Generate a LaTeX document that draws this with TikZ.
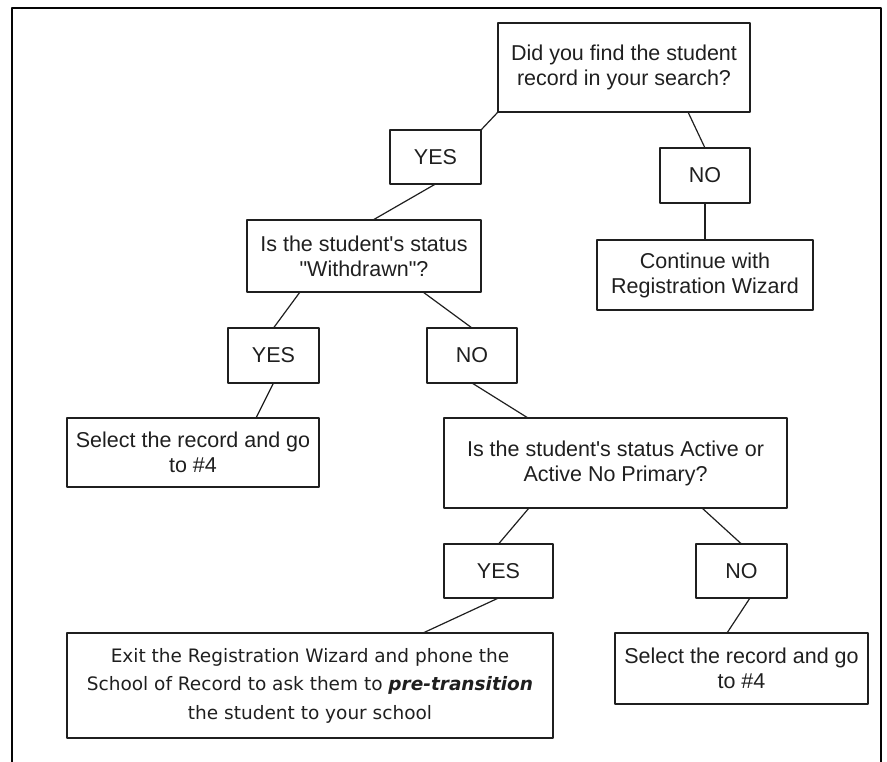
\documentclass[tikz,border=0pt]{standalone}
\usepackage{fontspec}
\setmainfont{Liberation Sans}[Ligatures=TeXOff]
\newfontfamily\notefont{DejaVu Sans}[Ligatures=TeXOff]
\usetikzlibrary{calc}
\definecolor{FlowInk}{gray}{0.12}
\definecolor{FlowFrame}{gray}{0.02}
\tikzset{
    flow/diagram/.style={
        x=1pt, y=-1pt,
        font=\fontsize{21.5}{25}\selectfont,
        text=FlowInk,
        line cap=round,
        line join=round,
        every node/.style={inner sep=0pt, outer sep=0pt}
    },
    flow/frame/.style={draw=FlowFrame, line width=2.2pt, line cap=butt},
    flow/box/.style 2 args={
        draw=FlowInk, line width=1.25pt, align=center,
        minimum width=#1pt, minimum height=#2pt
    },
    flow/note/.style={font=\notefont\fontsize{18.5}{28.5}\selectfont},
    flow/link/.style={draw=FlowInk, line width=1.2pt}
}

\begin{document}
\begin{tikzpicture}[flow/diagram]
    \useasboundingbox (0,0) rectangle (887,762);
    \draw[flow/frame] (12,762) -- (12,8) -- (881,8) -- (881,762);

    % first question
    \node[flow/box={252}{89}] (found) at (624,67.5)
        {Did you find the student\\record in your search?};
    \node[flow/box={91}{54}] (foundyes) at (435.5,157) {YES};
    \node[flow/box={90}{55}] (foundno) at (705,175.5) {NO};
    \node[flow/box={216}{70}] (wizard) at (705,275)
        {Continue with\\Registration Wizard};

    % withdrawn
    \node[flow/box={234}{72}] (withdrawn) at (364,256)
        {Is the student's status\\"Withdrawn"?};
    \node[flow/box={91}{55}] (withdrawnyes) at (273.5,355.5) {YES};
    \node[flow/box={90}{55}] (withdrawnno) at (472,355.5) {NO};
    \node[flow/box={252}{69}] (selectleft) at (193,452.5)
        {Select the record and go\\to \#4};

    % active
    \node[flow/box={343}{90}] (active) at (615.5,463)
        {Is the student's status Active or\\Active No Primary?};
    \node[flow/box={109}{54}] (activeyes) at (498.5,571) {YES};
    \node[flow/box={91}{54}] (activeno) at (741.5,571) {NO};
    \node[flow/box={486}{105}, flow/note] (phone) at (310,685.5)
        {Exit the Registration Wizard and phone the\\School of Record to ask them to \textbf{\textit{pre-transition}}\\the student to your school};
    \node[flow/box={253}{71}] (selectright) at (741.5,668.5)
        {Select the record and go\\to \#4};

    \draw[flow/link] (found.south west) -- (foundyes.north east);
    \draw[flow/link] ([xshift=64pt]found.south) -- (foundno.north);
    \draw[flow/link] (foundno.south) -- (wizard.north);
    \draw[flow/link] (foundyes.south) -- ([xshift=9pt]withdrawn.north);
    \draw[flow/link] ([xshift=-64pt]withdrawn.south) -- (withdrawnyes.north);
    \draw[flow/link] ([xshift=59pt]withdrawn.south) -- (withdrawnno.north);
    \draw[flow/link] (withdrawnyes.south) -- ([xshift=63pt]selectleft.north);
    \draw[flow/link] (withdrawnno.south) -- ([xshift=-87.5pt]active.north);
    \draw[flow/link] ([xshift=-86.5pt]active.south) -- (activeyes.north);
    \draw[flow/link] ([xshift=86.5pt]active.south) -- (activeno.north);
    \draw[flow/link] (activeyes.south) -- ([xshift=113pt]phone.north);
    \draw[flow/link] ([xshift=8.5pt]activeno.south) -- ([xshift=-14.5pt]selectright.north);
\end{tikzpicture}
\end{document}
